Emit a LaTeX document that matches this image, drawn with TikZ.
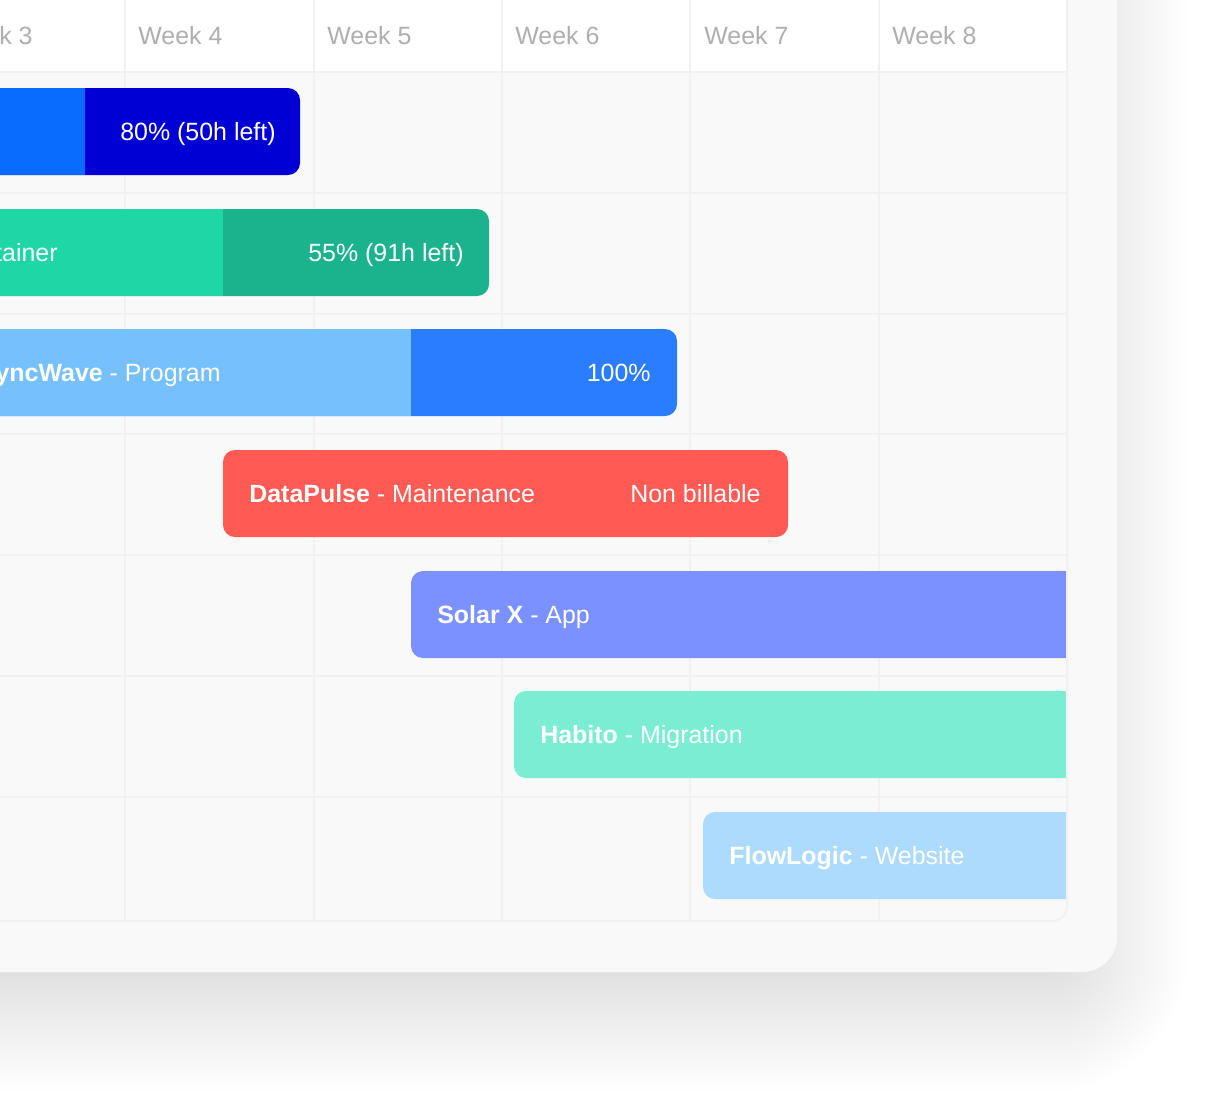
\documentclass[tikz,border=0pt]{standalone}
\usepackage{fontspec}
\setmainfont{Liberation Sans}
\usetikzlibrary{calc}
\definecolor{cardbg}{HTML}{FAF9F9}
\definecolor{cellbg}{HTML}{FAF9F9}
\definecolor{gridcol}{HTML}{F2F0F0}
\definecolor{weekgray}{HTML}{AFAFAF}
\definecolor{blueA}{HTML}{0A6BFF}
\definecolor{blueB}{HTML}{0000D4}
\definecolor{tealA}{HTML}{1FD6A7}
\definecolor{tealB}{HTML}{1AB38D}
\definecolor{skyA}{HTML}{76C0FE}
\definecolor{skyB}{HTML}{2A7DFF}
\definecolor{redbar}{HTML}{FF5B54}
\definecolor{violetbar}{HTML}{7A91FF}
\definecolor{mintbar}{HTML}{7BEDD3}
\definecolor{palebar}{HTML}{ACDBFD}
\newcommand\chartfont{\fontsize{14.2}{17}\selectfont}
\tikzset{
  gridline/.style={draw=gridcol, line width=0.04cm},
  bar/.style={rounded corners=0.24cm},
  barlabel/.style={text=white, font=\chartfont, inner sep=0pt, anchor=base west},
  barnote/.style={text=white, font=\chartfont, inner sep=0pt, anchor=base east},
  weeklabel/.style={text=weekgray, font=\chartfont, inner sep=0pt, anchor=base west},
  shadowlayer/.style={fill=black, opacity=0.0037}
}

\begin{document}
\begin{tikzpicture}[x=0.02cm, y=-0.02cm]
  \useasboundingbox (0,0) rectangle (1220,1100);
  \clip (0,0) rectangle (1220,1100);
  \fill[white] (0,0) rectangle (1220,1100);

  % soft shadow under the card
  \foreach \d in {-30,-26,...,90}{
    \pgfmathsetmacro\rc{(50+\d)*0.02}
    \fill[shadowlayer, rounded corners=\rc cm] (-200,-200) rectangle (1098+\d,1002+\d);
  }

  % card
  \fill[cardbg, rounded corners=0.7cm] (-100,-100) rectangle (1117,972);

  % timeline panel
  \begin{scope}
    \clip[rounded corners=0.3cm] (-100,-100) rectangle (1067,921);
    \fill[cellbg] (-100,72) rectangle (1067,921);
    \fill[white] (-100,-100) rectangle (1067,72);
    \foreach \x in {125,314,502,690,879}
      \draw[gridline] (\x,-100) -- (\x,921);
    \foreach \y in {72,193,314,434,555,676,797}
      \draw[gridline] (-100,\y) -- (1067,\y);

    % week headers
    \node[weeklabel, anchor=base east] (w3) at (33,44) {Week 3};
    \node[weeklabel] (w4) at (138,44) {Week 4};
    \node[weeklabel] (w5) at (327,44) {Week 5};
    \node[weeklabel] (w6) at (515,44) {Week 6};
    \node[weeklabel] (w7) at (704,44) {Week 7};
    \node[weeklabel] (w8) at (892,44) {Week 8};

    % bar 1
    \fill[bar, blueB] (-100,88) rectangle (300,175);
    \fill[blueA] (-100,88) rectangle (85,175);
    \node[barnote] (p1) at (276,140) {80\% (50h left)};

    % bar 2
    \fill[bar, tealB] (-100,209) rectangle (489,296);
    \fill[tealA] (-100,209) rectangle (223,296);
    \node[barnote] (t2) at (58,261) {tainer};
    \node[barnote] (p2) at (464,261) {55\% (91h left)};

    % bar 3
    \fill[bar, skyB] (-100,329) rectangle (677,416);
    \fill[skyA] (-100,329) rectangle (411,416);
    \node[barnote] (t3) at (221,381) {\textbf{SyncWave} - Program};
    \node[barnote] (p3) at (651,381) {100\%};

    % bar 4
    \fill[bar, redbar] (223,450) rectangle (788,537);
    \node[barlabel] (t4) at (249,502) {\textbf{DataPulse} - Maintenance};
    \node[barnote] (p4) at (761,502) {Non billable};

    % bars running past week 8
    \fill[bar, violetbar] (411,571) rectangle (1120,658);
    \node[barlabel] (t5) at (437,623) {\textbf{Solar X} - App};
    \fill[bar, mintbar] (514,691) rectangle (1120,778);
    \node[barlabel] (t6) at (540,743) {\textbf{Habito} - Migration};
    \fill[bar, palebar] (703,812) rectangle (1120,899);
    \node[barlabel] (t7) at (729,864) {\textbf{FlowLogic} - Website};
  \end{scope}
  \draw[gridline, rounded corners=0.3cm] (-100,-100) rectangle (1067,921);
\end{tikzpicture}
\end{document}
